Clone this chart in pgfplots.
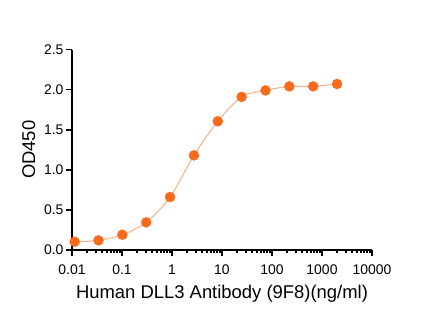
\documentclass[border=0pt]{standalone}
\usepackage{pgfplots}
\pgfplotsset{compat=1.18}
\usepackage{fontspec}
\setmainfont{Liberation Sans}
\definecolor{dotc}{HTML}{F96A1F}
\definecolor{linec}{HTML}{F8B48C}
\pgfplotstableread{
x y
0.01129 0.103
0.03387 0.120
0.1016 0.190
0.3048 0.345
0.9145 0.660
2.743 1.180
8.230 1.605
24.69 1.910
74.07 1.990
222.2 2.040
666.7 2.040
2000 2.070
}\datatable
\begin{document}
\begin{tikzpicture}
\path[use as bounding box] (-72bp,-67bp) rectangle (365bp,250bp);
\begin{axis}[
  scale only axis,
  width=300bp, height=200.5bp,
  xmode=log,
  xmin=0.01, xmax=10000,
  ymin=0, ymax=2.5,
  axis lines*=left,
  axis line style={line width=1.6bp, black},
  xtick={0.01,0.1,1,10,100,1000,10000},
  xticklabels={0.01,0.1,1,10,100,1000,10000},
  minor xtick={},
  ytick={0,0.5,1,1.5,2,2.5},
  yticklabels={0.0,0.5,1.0,1.5,2.0,2.5},
  tick align=outside,
  major tick length=6bp,
  tick style={line width=1.6bp, black},
  tick label style={font=\fontsize{14}{16}\selectfont, black},
  xticklabel style={yshift=-5bp},
  yticklabel style={xshift=1bp},
  xlabel={Human DLL3 Antibody (9F8)(ng/ml)},
  ylabel={OD450},
  label style={font=\fontsize{18.5}{21}\selectfont},
  xlabel style={yshift=-4bp},
  ylabel style={yshift=2bp},
  clip=false,
]
\addplot[linec, line width=1.1bp, smooth, tension=0.5] table[x=x,y=y] {\datatable};
\addplot[only marks, mark=*, mark size=5bp, mark options={fill=dotc, draw=dotc}] table[x=x,y=y] {\datatable};
\end{axis}
\end{tikzpicture}
\end{document}
